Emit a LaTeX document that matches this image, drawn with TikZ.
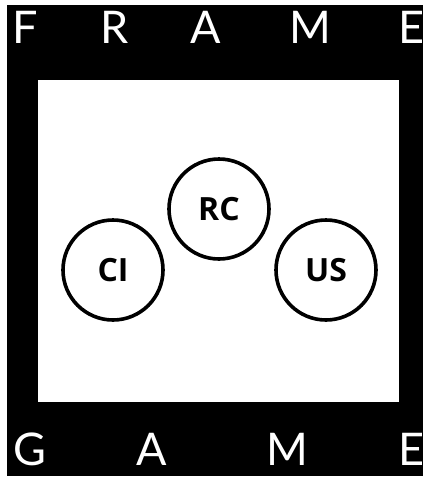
\documentclass[tikz,border=0pt]{standalone}
\usepackage{fontspec}
\setmainfont{Lato}
\newfontfamily\lblfont{Open Sans}
\begin{document}
\begin{tikzpicture}[x=1pt,y=-1pt,
  bigletter/.style={text=white,font=\fontsize{45}{45}\selectfont,anchor=base,inner sep=0pt},
  ring/.style={circle,draw=black,line width=3.6pt,minimum size=100pt,inner sep=0pt,
    font=\lblfont\bfseries\fontsize{32}{32}\selectfont}]
\useasboundingbox (0,0) rectangle (423,477);
\fill[white] (0,0) rectangle (423,477);
\fill[black] (7,5) rectangle (423,476);
\fill[white] (38,80) rectangle (399,402);
\node[bigletter] (f) at (25,43) {F};
\node[bigletter] (r) at (115,43) {R};
\node[bigletter] (a1) at (206,43) {A};
\node[bigletter] (m1) at (310,43) {M};
\node[bigletter] (e1) at (411,43) {E};
\node[bigletter] (g) at (30,465) {G};
\node[bigletter] (a2) at (152,465) {A};
\node[bigletter] (m2) at (287,465) {M};
\node[bigletter] (e2) at (411,465) {E};
\node[ring] (ci) at (113,270) {CI};
\node[ring] (rc) at (219,209) {RC};
\node[ring] (us) at (326,270) {US};
\end{tikzpicture}
\end{document}
